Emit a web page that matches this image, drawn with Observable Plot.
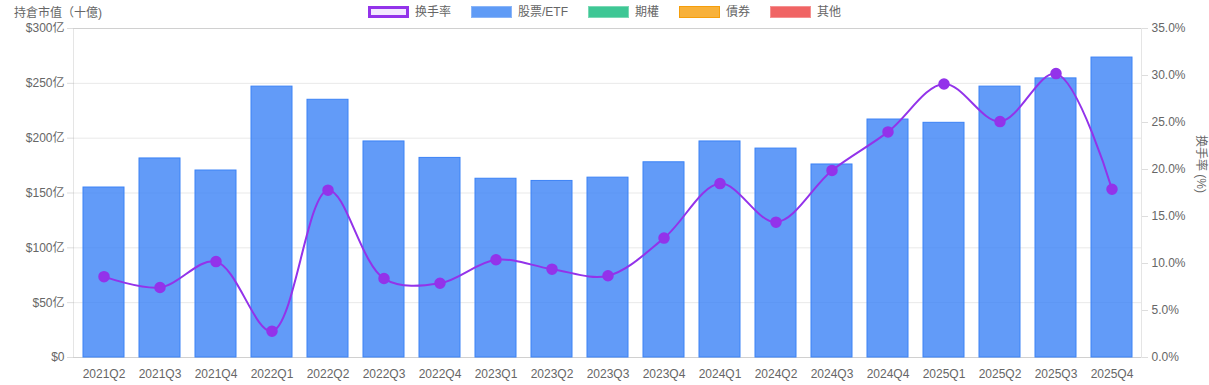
<!DOCTYPE html>
<html><head><meta charset="utf-8">
<script src="https://cdn.jsdelivr.net/npm/d3@7"></script>
<script src="https://cdn.jsdelivr.net/npm/@observablehq/plot@0.6"></script>
<style>
body{margin:0;background:#fff;font-family:"Liberation Sans",Arial,"Noto Sans CJK SC",sans-serif;}
#wrap{width:1209px;height:385px;position:relative;overflow:hidden;}
#head{height:22px;position:relative;}
#title{position:absolute;left:14px;top:3px;font-size:12px;color:#666;}
#legend{display:flex;justify-content:center;gap:20px;padding-top:6px;font-size:12px;color:#666;}
.item{display:flex;align-items:center;gap:6px;line-height:12px;height:12px;}
.box{width:41px;height:12px;box-sizing:border-box;}
svg{display:block;}
</style>
</head><body>
<div id="wrap">
  <div id="head"><div id="title"></div><div id="legend"></div></div>
  <div id="chart"></div>
</div>
<script>
const quarters = ["2021Q2","2021Q3","2021Q4","2022Q1","2022Q2","2022Q3","2022Q4","2023Q1","2023Q2","2023Q3","2023Q4","2024Q1","2024Q2","2024Q3","2024Q4","2025Q1","2025Q2","2025Q3","2025Q4"];
const holdings = [155, 181.5, 170.5, 247, 235, 197, 182, 163, 161, 164, 178, 197, 190.5, 176, 217, 214, 247, 254.5, 273.5];
const turnover = [8.6, 7.45, 10.2, 2.8, 17.8, 8.4, 7.9, 10.4, 9.4, 8.7, 12.7, 18.5, 14.4, 19.9, 24.0, 29.1, 25.1, 30.2, 17.9];
const leftTicks = [0, 50, 100, 150, 200, 250, 300];
const rightTicks = [0, 5, 10, 15, 20, 25, 30, 35];
const legendItems = [
  {label: "换手率", fill: "#f3e8ff", stroke: "#9333ea", sw: 3},
  {label: "股票/ETF", fill: "#5f9bf6", stroke: "#8ab5f8", sw: 1},
  {label: "期權", fill: "#3ec795", stroke: "#7ad9b5", sw: 1},
  {label: "債券", fill: "#f8b13a", stroke: "#f59e0b", sw: 1},
  {label: "其他", fill: "#f06464", stroke: "#f59090", sw: 1}
];
const leftTitle = "持倉市值（十億)";
const rightTitle = "换手率 (%)";

document.getElementById("title").textContent = leftTitle;
const lg = document.getElementById("legend");
for (const it of legendItems) {
  const d = document.createElement("div"); d.className = "item";
  const b = document.createElement("div"); b.className = "box";
  b.style.background = it.fill; b.style.border = `${it.sw}px solid ${it.stroke}`;
  const s = document.createElement("span"); s.textContent = it.label;
  d.append(b, s); lg.append(d);
}

const k = 300 / 35;
const data = quarters.map((q, i) => ({q, v: holdings[i], r: turnover[i]}));
const font = `"Liberation Sans",Arial,"Noto Sans CJK SC",sans-serif`;

const chart = Plot.plot({
  width: 1209, height: 363,
  marginTop: 6, marginBottom: 28, marginLeft: 73, marginRight: 68,
  style: {fontFamily: font, fontSize: "12px", color: "#666", background: "#fff"},
  x: {domain: quarters, paddingInner: 0.27, paddingOuter: 0.135},
  y: {domain: [0, 300]},
  marks: [
    Plot.gridY(leftTicks, {stroke: "#000", strokeOpacity: 0.09}),
    Plot.frame({stroke: "#000", strokeOpacity: 0.1}),
    Plot.barY(data, {x: "q", y: "v", fill: "#3b82f6", fillOpacity: 0.8, stroke: "#3b82f6", strokeWidth: 1}),
    Plot.line(data, {x: "q", y: d => d.r * k, curve: "catmull-rom", stroke: "#9333ea", strokeWidth: 2}),
    Plot.dot(data, {x: "q", y: d => d.r * k, r: 5, fill: "#9333ea", stroke: "#9333ea"}),
    Plot.axisY(leftTicks, {anchor: "left", label: null, tickSize: 6, tickPadding: 3, stroke: "#ddd", fill: "#666",
      tickFormat: d => d === 0 ? "$0" : `$${d}亿`}),
    Plot.axisY(rightTicks.map(t => t * k), {anchor: "right", label: null, tickSize: 6, tickPadding: 4, stroke: "#ddd", fill: "#666",
      tickFormat: d => (Math.round(d / k * 10) / 10).toFixed(1) + "%"}),
    Plot.axisX({anchor: "bottom", label: null, tickSize: 0, tickPadding: 12, fill: "#666"}),
    Plot.text([rightTitle], {frameAnchor: "right", dx: 59, rotate: 90, fill: "#666", fontSize: 12})
  ]
});
document.getElementById("chart").append(chart);
</script>
</body></html>
